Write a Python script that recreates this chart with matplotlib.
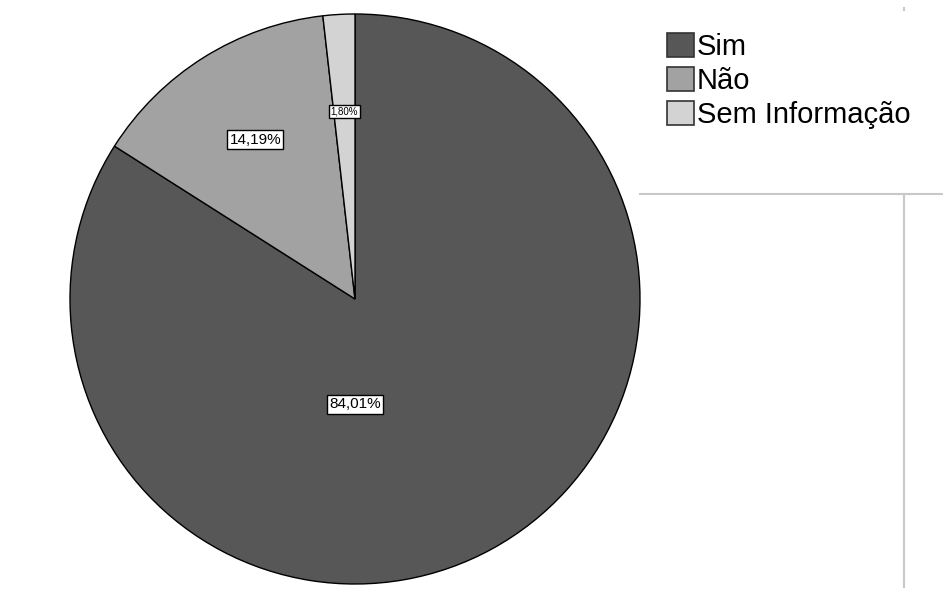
import matplotlib
matplotlib.use("Agg")
import matplotlib.pyplot as plt
import numpy as np
from matplotlib.lines import Line2D

categories = ["Sim", "Não", "Sem Informação"]
values = [84.01, 14.19, 1.80]
labels = ["84,01%", "14,19%", "1,80%"]
colors = ["#575757", "#a2a2a2", "#d3d3d3"]

plt.rcParams['font.family'] = ['Liberation Sans', 'DejaVu Sans']

W, H = 943, 589
fig = plt.figure(figsize=(W / 100, H / 100), dpi=100)
cx, cy, r = 355, 299, 285
ax = fig.add_axes([(cx - r) / W, (H - cy - r) / H, 2 * r / W, 2 * r / H])
wedges, _ = ax.pie(values, colors=colors, startangle=90, counterclock=False,
                   radius=1.0, wedgeprops=dict(edgecolor="black", linewidth=1.0))
ax.set_xlim(-1, 1)
ax.set_ylim(-1, 1)
ax.set_aspect("equal")
ax.axis("off")

# label placement
sizes = [11, 11, 7]
for i, (w, lab) in enumerate(zip(wedges, labels)):
    if i == 0:
        x, y = 0.0, -0.37
    else:
        ang = np.deg2rad((w.theta1 + w.theta2) / 2)
        x, y = 0.66 * np.cos(ang), 0.66 * np.sin(ang)
    ax.text(x, y, lab, ha="center", va="center", fontsize=sizes[i],
            bbox=dict(boxstyle="square,pad=0.15", facecolor="white",
                      edgecolor="black", linewidth=1.0))

leg = fig.legend(wedges, categories, loc="upper left",
                 bbox_to_anchor=(667 / W, 1 - 33 / H), frameon=False,
                 fontsize=21, handlelength=0.92, handleheight=0.9,
                 handletextpad=0.1, labelspacing=0.2, borderpad=0,
                 borderaxespad=0)
for h in leg.legend_handles:
    h.set_edgecolor("#333333")
    h.set_linewidth(1.2)

gray = "#c8c8c8"
fig.add_artist(Line2D([640 / W, 1.0], [1 - 194 / H, 1 - 194 / H],
                      color=gray, lw=1.5, transform=fig.transFigure))
fig.add_artist(Line2D([904 / W, 904 / W], [1 - 195 / H, 1 - 587 / H],
                      color=gray, lw=1.5, transform=fig.transFigure))
fig.add_artist(Line2D([904 / W, 904 / W], [1 - 8 / H, 1 - 10 / H],
                      color=gray, lw=1.5, transform=fig.transFigure))

fig.savefig("out.png", dpi=100)
